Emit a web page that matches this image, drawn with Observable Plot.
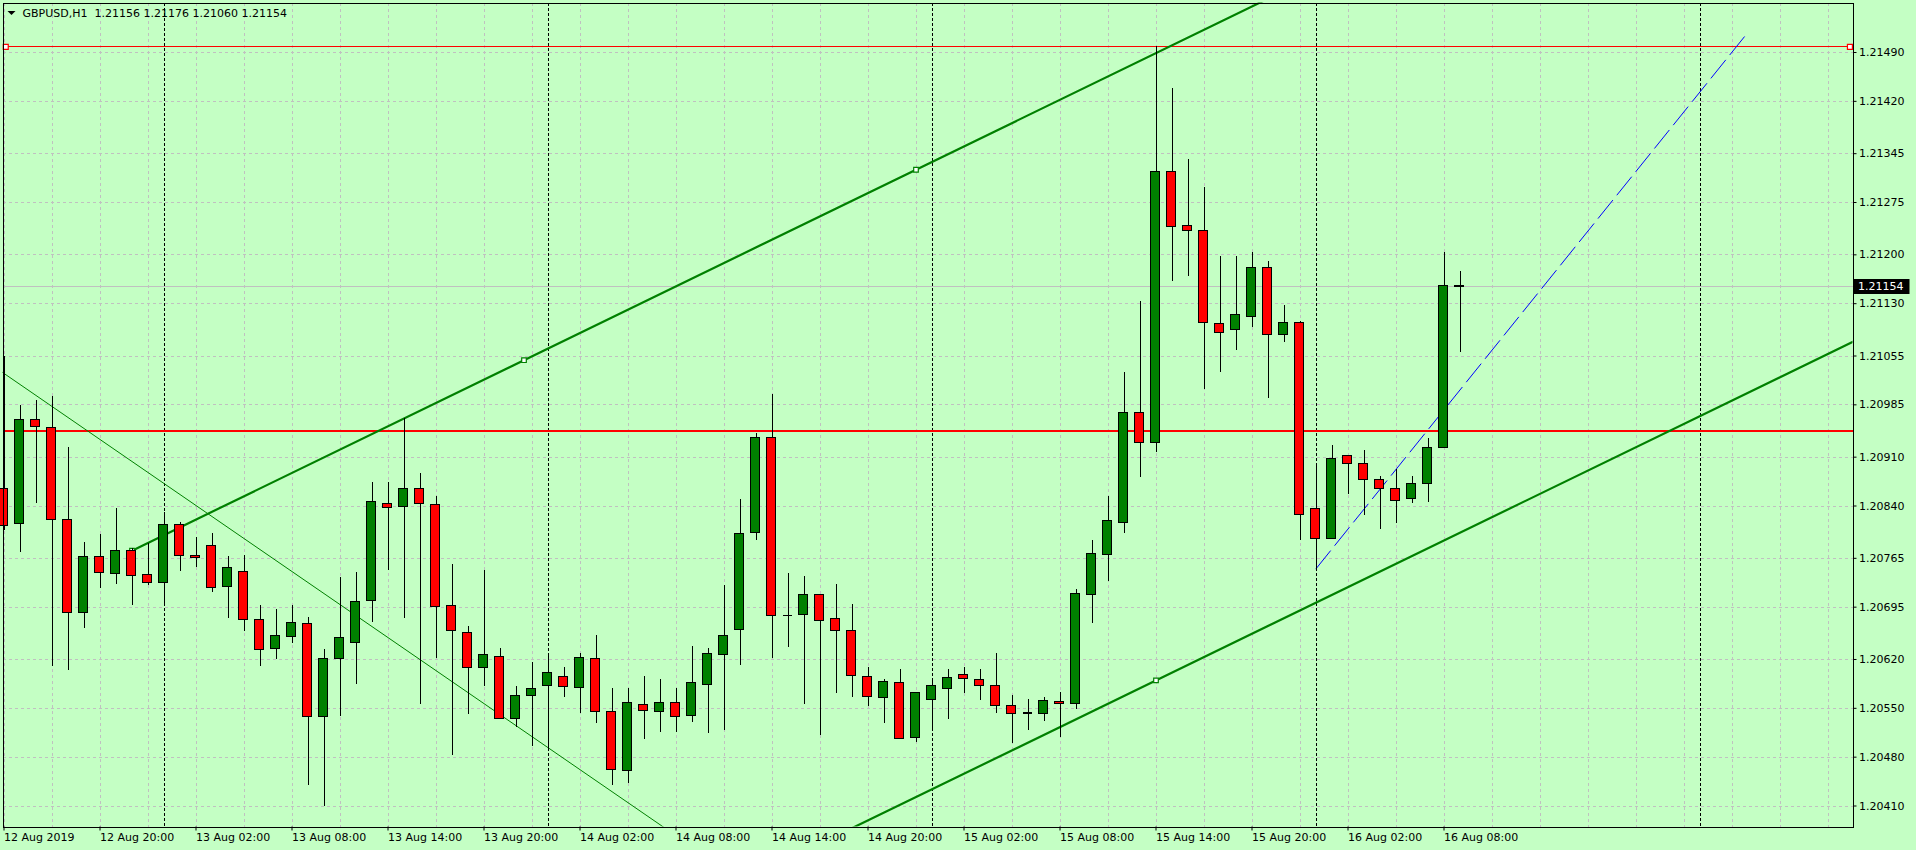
<!DOCTYPE html>
<html>
<head>
<meta charset="utf-8">
<script src="https://cdn.jsdelivr.net/npm/d3@7"></script>
<script src="https://cdn.jsdelivr.net/npm/@observablehq/plot@0.6"></script>
<style>
html, body { margin: 0; padding: 0; background: #C4FFC4; }
#chart { width: 1916px; height: 850px; overflow: hidden; }
svg { display: block; }
</style>
</head>
<body>
<div id="chart"></div>
<script>
// ---------- DATA (GBPUSD H1, bar 0 = 12 Aug 2019 14:00) ----------
const symbolTitle = "GBPUSD,H1";
const titleQuote = ["1.21156", "1.21176", "1.21060", "1.21154"];

const open = [1.20864,1.20814,1.20963,1.20952,1.20820,1.20687,1.20767,1.20743,1.20775,1.20741,
1.20730,1.20813,1.20768,1.20783,1.20724,1.20745,1.20677,1.20635,1.20652,1.20671,
1.20538,1.20621,1.20644,1.20704,1.20843,1.20839,1.20864,1.20841,1.20697,1.20658,
1.20608,1.20624,1.20535,1.20568,1.20582,1.20595,1.20579,1.20621,1.20545,1.20460,
1.20555,1.20545,1.20558,1.20539,1.20583,1.20626,1.20662,1.20802,1.20937,1.20683,
1.20684,1.20712,1.20678,1.20661,1.20595,1.20565,1.20586,1.20507,1.20562,1.20578,
1.20598,1.20591,1.20582,1.20553,1.20543,1.20542,1.20559,1.20556,1.20712,1.20770,
1.20816,1.20973,1.20930,1.21319,1.21241,1.21234,1.21101,1.21092,1.21111,1.21181,
1.21085,1.21102,1.20836,1.20793,1.20912,1.20900,1.20877,1.20864,1.20850,1.20872,
1.20923,1.21156];
const high = [1.21055,1.20984,1.20991,1.20997,1.20924,1.20787,1.20799,1.20836,1.20779,1.20786,
1.20830,1.20816,1.20795,1.20800,1.20767,1.20769,1.20697,1.20691,1.20698,1.20680,
1.20634,1.20737,1.20745,1.20873,1.20874,1.20965,1.20887,1.20854,1.20756,1.20668,
1.20748,1.20636,1.20582,1.20616,1.20626,1.20608,1.20628,1.20655,1.20578,1.20578,
1.20595,1.20592,1.20578,1.20638,1.20636,1.20726,1.20850,1.20944,1.21000,1.20743,
1.20739,1.20713,1.20727,1.20699,1.20608,1.20591,1.20605,1.20572,1.20592,1.20606,
1.20608,1.20606,1.20629,1.20569,1.20562,1.20565,1.20572,1.20721,1.20791,1.20854,
1.21031,1.21133,1.21498,1.21438,1.21336,1.21296,1.21197,1.21197,1.21204,1.21191,
1.21128,1.21105,1.20898,1.20927,1.20912,1.20920,1.20883,1.20893,1.20882,1.20937,
1.21203,1.21176];
const low = [1.20805,1.20774,1.20844,1.20610,1.20604,1.20665,1.20722,1.20728,1.20698,1.20726,
1.20696,1.20746,1.20752,1.20716,1.20679,1.20660,1.20610,1.20620,1.20643,1.20439,
1.20409,1.20538,1.20584,1.20673,1.20748,1.20679,1.20556,1.20622,1.20483,1.20541,
1.20581,1.20534,1.20523,1.20495,1.20489,1.20566,1.20543,1.20528,1.20440,1.20442,
1.20505,1.20515,1.20515,1.20530,1.20514,1.20518,1.20612,1.20790,1.20622,1.20637,
1.20556,1.20511,1.20571,1.20566,1.20553,1.20528,1.20505,1.20501,1.20517,1.20534,
1.20571,1.20561,1.20542,1.20500,1.20518,1.20531,1.20508,1.20549,1.20672,1.20732,
1.20801,1.20881,1.20916,1.21162,1.21169,1.21007,1.21031,1.21063,1.21096,1.20994,
1.21075,1.20791,1.20749,1.20792,1.20857,1.20827,1.20806,1.20815,1.20844,1.20845,
1.20922,1.21060];
const close = [1.20811,1.20963,1.20953,1.20820,1.20687,1.20767,1.20744,1.20775,1.20740,1.20730,
1.20813,1.20768,1.20766,1.20722,1.20751,1.20677,1.20634,1.20654,1.20672,1.20538,
1.20621,1.20651,1.20702,1.20846,1.20837,1.20864,1.20843,1.20695,1.20661,1.20608,
1.20626,1.20535,1.20568,1.20578,1.20601,1.20581,1.20622,1.20545,1.20462,1.20558,
1.20546,1.20558,1.20538,1.20586,1.20628,1.20654,1.20800,1.20937,1.20682,1.20683,
1.20712,1.20675,1.20661,1.20596,1.20566,1.20588,1.20506,1.20572,1.20582,1.20593,
1.20592,1.20582,1.20553,1.20542,1.20543,1.20560,1.20556,1.20714,1.20771,1.20819,
1.20973,1.20930,1.21319,1.21240,1.21234,1.21102,1.21088,1.21114,1.21181,1.21085,
1.21102,1.20827,1.20793,1.20907,1.20900,1.20877,1.20864,1.20847,1.20872,1.20923,
1.21155,1.21154];

// time axis (bar index -> label)
const timeTickIndex = [0,6,12,18,24,30,36,42,48,54,60,66,72,78,84,90];
const timeTickLabels = ["12 Aug 2019","12 Aug 20:00","13 Aug 02:00","13 Aug 08:00","13 Aug 14:00",
  "13 Aug 20:00","14 Aug 02:00","14 Aug 08:00","14 Aug 14:00","14 Aug 20:00","15 Aug 02:00",
  "15 Aug 08:00","15 Aug 14:00","15 Aug 20:00","16 Aug 02:00","16 Aug 08:00"];
// day separators (bar index of midnight)
const daySeparatorIndex = [10,34,58,82,106];
// price axis
const priceTicks = [1.20410,1.20480,1.20550,1.20620,1.20695,1.20765,1.20840,1.20910,
  1.20985,1.21055,1.21130,1.21200,1.21275,1.21345,1.21420,1.21490];

// drawn objects
const lastPrice = 1.21154;
const hLineTop = 1.21498;
const hLineMid = 1.20948;
const channelP1 = {i: 8, p: 1.20776};
const channelP2 = {i: 57, p: 1.21322};
const channelP3 = {i: 72, p: 1.20590};
const downTrend = [{i: 0, p: 1.21030}, {i: 40, p: 1.20399}];
const blueTrend = [{i: 82, p: 1.20750}, {i: 109, p: 1.21519}];

// ---------- STYLE ----------
const BG = "#C4FFC4", GRID = "#C0C0C0", BULL = "#008000", BEAR = "#FF0000";
const FONT = "DejaVu Sans";

// ---------- BUILD ----------
const bars = open.map((o, i) => ({i, o, h: high[i], l: low[i], c: close[i]}));
const bodies = bars.filter(d => d.o !== d.c);
const dojis = bars.filter(d => d.o === d.c);
const lastIdx = 115;
const vGrid = d3.range(0, lastIdx + 1, 3);

const slope = (channelP2.p - channelP1.p) / (channelP2.i - channelP1.i);
const ray = (p0, i0, from, to) => [{i: from, p: p0 + (from - i0) * slope}, {i: to, p: p0 + (to - i0) * slope}];
const upperLine = ray(channelP1.p, channelP1.i, channelP1.i, 140);
const lowerLine = ray(channelP3.p, channelP3.i, channelP1.i, 140);
const dSlope = (downTrend[1].p - downTrend[0].p) / (downTrend[1].i - downTrend[0].i);
const downLine = [{i: -5, p: downTrend[0].p - 5 * dSlope}, {i: 50, p: downTrend[0].p + 50 * dSlope}];
const mid = (channelP1.i + channelP2.i) / 2;
const channelSquares = [
  channelP1, {i: mid, p: channelP1.p + (mid - channelP1.i) * slope}, channelP2,
  {i: channelP3.i, p: channelP3.p}
];
const topSquares = [{i: 0.11, p: hLineTop}, {i: 115.37, p: hLineTop}];

const crisp = {shapeRendering: "crispEdges"};
const bodyX1 = d => d.i - 5 / 16, bodyX2 = d => d.i + 4 / 16;

const chart = Plot.plot({
  width: 1916, height: 850,
  marginTop: 2.5, marginBottom: 23.5, marginLeft: 2.5, marginRight: 63.5,
  style: {background: BG, fontFamily: FONT, fontSize: "11px", color: "black", overflow: "visible"},
  x: {type: "linear", domain: [-0.0625, 115.5625]},
  y: {type: "linear", domain: [1.203799, 1.2156097]},
  color: {type: "identity"},
  marks: [
    Plot.ruleY(priceTicks, {stroke: GRID, strokeDasharray: "3,3", ...crisp}),
    Plot.ruleX(vGrid, {stroke: GRID, strokeDasharray: "3,3", ...crisp}),
    Plot.ruleX(daySeparatorIndex, {stroke: "black", strokeDasharray: "3,2", ...crisp}),
    Plot.ruleY([lastPrice], {stroke: GRID, ...crisp}),
    Plot.ruleY([hLineMid], {stroke: "#FF0000", strokeWidth: 2, ...crisp}),
    Plot.ruleY([hLineTop], {stroke: "#FF0000", ...crisp}),
    Plot.line(downLine, {x: "i", y: "p", stroke: BULL, strokeWidth: 1, clip: true}),
    Plot.line(upperLine, {x: "i", y: "p", stroke: BULL, strokeWidth: 2.2, clip: true}),
    Plot.line(lowerLine, {x: "i", y: "p", stroke: BULL, strokeWidth: 2.2, clip: true}),
    Plot.line(blueTrend, {x: "i", y: "p", stroke: "#0000FF", strokeWidth: 1, strokeDasharray: "23,7", clip: true}),
    Plot.dot(channelSquares, {x: "i", y: "p", symbol: "square", r: 2.6, stroke: BULL, fill: "white", strokeWidth: 1.2}),
    Plot.dot(topSquares, {x: "i", y: "p", symbol: "square", r: 2.8, stroke: "#FF0000", fill: "white", strokeWidth: 1.2}),
    // candles
    Plot.ruleX(bars, {x: "i", y1: "l", y2: "h", stroke: "black", ...crisp}),
    Plot.rect(bodies, {x1: bodyX1, x2: bodyX2, y1: "o", y2: "c",
      fill: d => d.c > d.o ? BULL : BEAR, stroke: "black", strokeWidth: 1, ...crisp}),
    Plot.ruleY(dojis, {y: "o", x1: bodyX1, x2: bodyX2, stroke: "black", strokeWidth: 1.5, ...crisp}),
    Plot.frame({stroke: "black", ...crisp}),
    // axes
    Plot.axisY({anchor: "right", ticks: priceTicks, tickFormat: d => d.toFixed(5), tickSize: 3,
      tickPadding: 3, label: null, fontSize: 11, fill: "black"}),
    Plot.axisX({anchor: "bottom", ticks: timeTickIndex,
      tickFormat: d => timeTickLabels[timeTickIndex.indexOf(d)], tickSize: 4, tickPadding: 2,
      textAnchor: "start", label: null, fontSize: 11, fill: "black"}),
    // title
    Plot.text([symbolTitle + "\u00A0\u00A0" + titleQuote.join(" ")], {
      frameAnchor: "top-left", dx: 19.5, dy: 10, textAnchor: "start", lineAnchor: "middle",
      fontSize: 11, fill: "black"})
  ]
});

document.getElementById("chart").appendChild(chart);

// last-price marker on the price axis and the chart menu triangle
const svg = d3.select(chart);
const yScale = chart.scale("y"), xScale = chart.scale("x");
const yy = Math.round(yScale.apply(lastPrice));
const xr = xScale.range[1];
svg.append("rect").attr("x", xr + 1).attr("y", yy - 7).attr("width", 56).attr("height", 15).attr("fill", "black");
svg.append("text").attr("x", xr + 5.5).attr("y", yy + 0.5).attr("dy", "0.35em")
  .attr("text-anchor", "start")
  .attr("fill", "white").attr("font-family", FONT).attr("font-size", 11).text(lastPrice.toFixed(5));
const x0 = xScale.range[0];
svg.append("path").attr("d", `M${x0 + 5},11 L${x0 + 13},11 L${x0 + 9},15 Z`).attr("fill", "black");
</script>
</body>
</html>
